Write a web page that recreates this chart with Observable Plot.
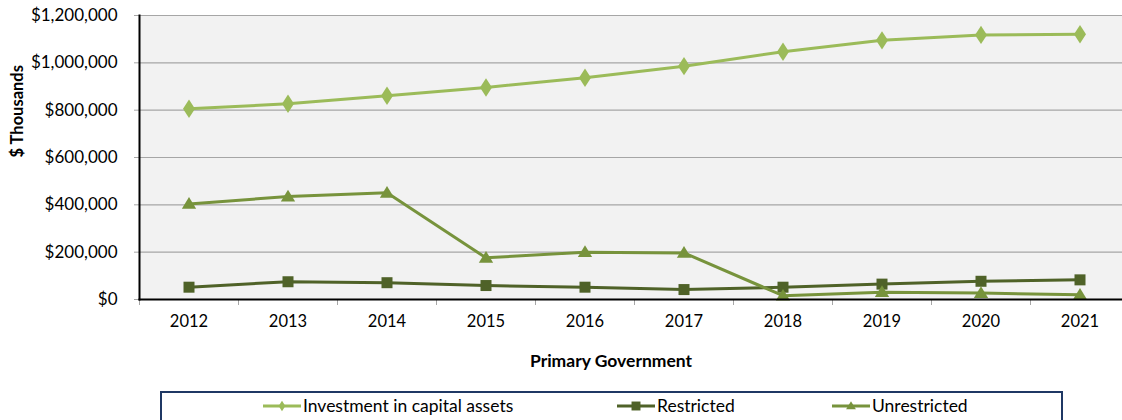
<!DOCTYPE html>
<html>
<head>
<meta charset="utf-8">
<script src="https://cdn.jsdelivr.net/npm/d3@7"></script>
<script src="https://cdn.jsdelivr.net/npm/@observablehq/plot@0.6"></script>
<style>
  html, body { margin: 0; padding: 0; background: #fff; }
  body { width: 1122px; height: 420px; overflow: hidden; font-family: Lato, "Open Sans", sans-serif; }
  #legend { position: relative; width: 1122px; height: 30px; }
  #legend .box { position: absolute; left: 160px; top: 1px; width: 903px; height: 40px; border: 2px solid #1f3864; box-sizing: border-box; }
  #legend .item { position: absolute; top: 5px; display: flex; align-items: center; font-size: 17.5px; color: #000; }
  #legend .item svg { margin-right: 2px; }
</style>
</head>
<body>
<div id="chart"></div>
<div id="legend"><div class="box"></div></div>
<script>
const years = [2012, 2013, 2014, 2015, 2016, 2017, 2018, 2019, 2020, 2021];
const investment = [806000, 827000, 861000, 896000, 937000, 986000, 1047000, 1095000, 1118000, 1121000];
const restricted = [52000, 75000, 71000, 59000, 52000, 42000, 52000, 65000, 77000, 83000];
const unrestricted = [404000, 435000, 451000, 176000, 200000, 197000, 16000, 31000, 27000, 20000];
const seriesNames = ["Investment in capital assets", "Restricted", "Unrestricted"];
const seriesColors = ["#9bbb59", "#4f6228", "#77933c"];
const yTicks = [0, 200000, 400000, 600000, 800000, 1000000, 1200000];
const yLabel = "$ Thousands";
const xLabel = "Primary Government";

const tallDiamond = {
  draw(ctx, size) {
    const r = Math.sqrt(size / Math.PI);
    const w = r * 0.75, h = r * 1.15;
    ctx.moveTo(0, -h); ctx.lineTo(w, 0); ctx.lineTo(0, h); ctx.lineTo(-w, 0); ctx.closePath();
  }
};
const square = {
  draw(ctx, size) {
    const r = Math.sqrt(size / Math.PI);
    ctx.moveTo(-r, -r); ctx.lineTo(r, -r); ctx.lineTo(r, r); ctx.lineTo(-r, r); ctx.closePath();
  }
};
const triangle = {
  draw(ctx, size) {
    const r = Math.sqrt(size / Math.PI);
    ctx.moveTo(0, -r * 1.05); ctx.lineTo(r * 1.1, r * 0.75); ctx.lineTo(-r * 1.1, r * 0.75); ctx.closePath();
  }
};
const symbols = [tallDiamond, square, triangle];
const sizes = [8, 5.5, 6.5];

const rows = [];
[investment, restricted, unrestricted].forEach((vals, i) => {
  years.forEach((yr, j) => rows.push({series: seriesNames[i], year: yr, value: vals[j], idx: i}));
});
const boundaries = years.map(y => y - 0.5).concat([years[years.length - 1] + 0.5]);

const marks = [
  Plot.frame({fill: "#f2f2f2", stroke: null}),
  Plot.gridY(yTicks, {stroke: "#a6a6a6", strokeOpacity: 1, strokeWidth: 1.2}),
  Plot.axisY(yTicks, {tickSize: 5, tickPadding: 17, stroke: "#a6a6a6", fill: "#000", strokeOpacity: 1,
    tickFormat: d3.format("$,"), fontSize: 17, label: null}),
  Plot.axisX(boundaries, {tickSize: 6, tickFormat: () => "", stroke: "#a6a6a6", strokeOpacity: 1, label: null}),
  Plot.axisX(years, {tickSize: 0, tickPadding: 16, tickFormat: d => String(d), fontSize: 16.5, fill: "#000", label: null}),
];
seriesNames.forEach((name, i) => {
  const data = rows.filter(r => r.idx === i);
  marks.push(Plot.line(data, {x: "year", y: "value", stroke: seriesColors[i], strokeWidth: 3}));
  marks.push(Plot.dot(data, {x: "year", y: "value", fill: seriesColors[i], stroke: null, symbol: () => symbols[i], r: sizes[i]}));
});
marks.push(
  Plot.frame({anchor: "left", stroke: "#000", strokeWidth: 2}),
  Plot.frame({anchor: "bottom", stroke: "#000", strokeWidth: 2}),
  Plot.text([yLabel], {text: d => d, frameAnchor: "left", rotate: -90, dx: -122, fontSize: 16.5, fontWeight: "bold", fill: "#000"}),
  Plot.text([xLabel], {text: d => d, frameAnchor: "bottom", dy: 67, dx: -20, fontSize: 17.5, fontWeight: "bold", fill: "#000"})
);

const chart = Plot.plot({
  width: 1122,
  height: 390,
  marginTop: 15,
  marginLeft: 139,
  marginRight: 0,
  marginBottom: 91,
  style: {fontFamily: "Lato, 'Open Sans', sans-serif", background: "#fff", color: "#000", overflow: "visible"},
  x: {type: "linear", domain: [years[0] - 0.5, years[years.length - 1] + 0.5], range: [139, 1129]},
  y: {domain: [0, 1200000]},
  symbol: {type: "identity"},
  marks
});
document.getElementById("chart").appendChild(chart);

// legend
const legend = document.getElementById("legend");
const lefts = [263, 617, 832];
seriesNames.forEach((name, i) => {
  const item = document.createElement("div");
  item.className = "item";
  item.style.left = lefts[i] + "px";
  const s = d3.create("svg").attr("width", 38).attr("height", 14);
  s.append("line").attr("x1", 0).attr("x2", 38).attr("y1", 7).attr("y2", 7).attr("stroke", seriesColors[i]).attr("stroke-width", 3);
  s.append("path").attr("transform", "translate(19,7)").attr("fill", seriesColors[i])
    .attr("d", d3.symbol().type(symbols[i]).size(Math.PI * 20)());
  item.appendChild(s.node());
  const t = document.createElement("span");
  t.textContent = name;
  item.appendChild(t);
  legend.appendChild(item);
});
</script>
</body>
</html>
